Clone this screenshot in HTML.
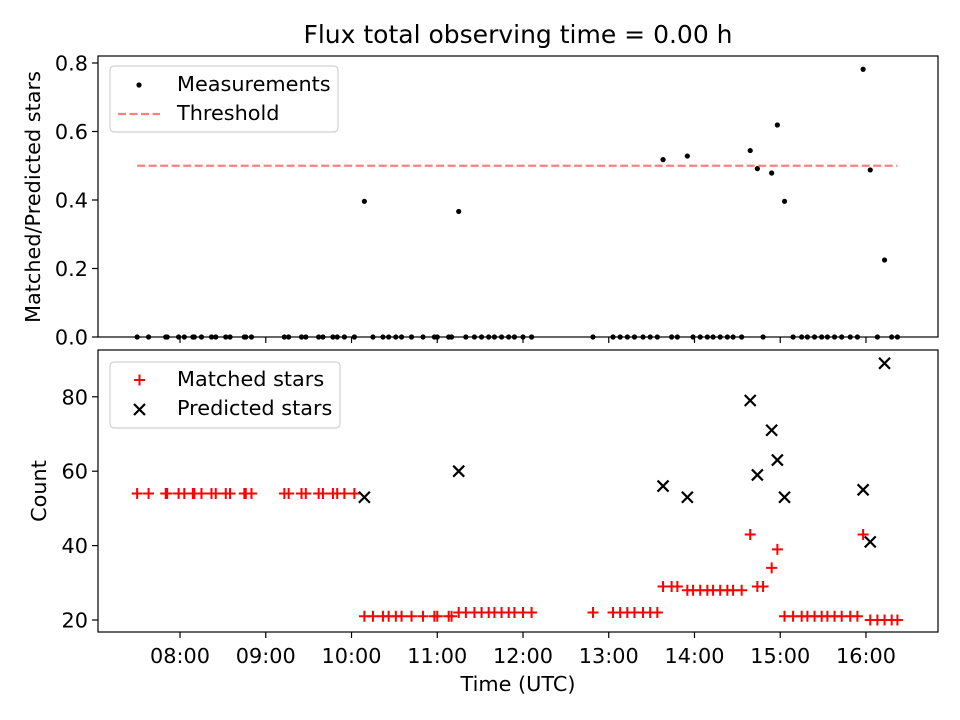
<!DOCTYPE html>
<html><head><meta charset="utf-8"><style>
html,body{margin:0;padding:0;background:#fff}
svg{display:block;font-family:"DejaVu Sans","Liberation Sans",sans-serif}
</style></head><body>
<svg id="chart" width="960" height="720" viewBox="0 0 960 720">
<text x="518" y="43" font-size="25" text-anchor="middle">Flux total observing time = 0.00 h</text>
<g id="topPanel"></g>
<g id="botPanel"></g>
</svg>
<script>
const times = [450,458,470,471,479,483,489,490,495,502,505,512,515,525,526,530,553,556,565,568,577,580,587,590,595,602,609,615,622,626,631,635,642,650,658,660,668,670,675,680,686,691,696,700,705,710,714,720,726,769,783,788,793,798,804,809,814,818,824,828,835,839,844,849,853,858,863,867,873,879,884,888,894,898,903,909,915,919,924,929,933,938,943,949,954,958,963,968,973,978,982];
const matched = [54,54,54,54,54,54,54,54,54,54,54,54,54,54,54,54,54,54,54,54,54,54,54,54,54,54,21,21,21,21,21,21,21,21,21,21,21,21,22,22,22,22,22,22,22,22,22,22,22,22,22,22,22,22,22,22,22,29,29,29,28,28,28,28,28,28,28,28,28,43,29,29,34,39,21,21,21,21,21,21,21,21,21,21,21,43,20,20,20,20,20];
const predTimes = [609,675,818,835,879,884,894,898,903,958,963,973];
const predicted = [53,60,56,53,79,59,71,63,53,55,41,89];
const threshold = 0.5;
const xTicks = ["08:00","09:00","10:00","11:00","12:00","13:00","14:00","15:00","16:00"];
const topTicks = [0,0.2,0.4,0.6,0.8];
const botTicks = [20,40,60,80];

const NS="http://www.w3.org/2000/svg";
function mk(parent,tag,attrs,text){const e=document.createElementNS(NS,tag);for(const k in attrs)e.setAttribute(k,attrs[k]);if(text!==undefined)e.textContent=text;parent.appendChild(e);return e;}
const FS=20.8;
const L=98,R=938;
const xMin=422.6,xMax=1010.4;
const sx=m=>L+(m-xMin)/(xMax-xMin)*(R-L);
const topY=v=>337-v/0.8*274;
const botY=v=>620-(v-20)/20*74.4;
const topG=document.getElementById('topPanel'), botG=document.getElementById('botPanel');

const ratios=times.map((t,i)=>{const j=predTimes.indexOf(t);return j>=0?matched[i]/predicted[j]:0;});

function frame(g,y0,y1,name){
  const r=mk(g,'rect',{x:L,y:y0,width:R-L,height:y1-y0,fill:'none',stroke:'#000','stroke-width':1.2});
  
  
}
const tl=mk(topG,'line',{x1:sx(Math.min(...times)),x2:sx(Math.max(...times)),y1:topY(threshold),y2:topY(threshold),stroke:'#ff7f7f','stroke-width':2.2,'stroke-dasharray':'8,3.5'});


ratios.forEach((v,i)=>{
  const c=mk(topG,'circle',{cx:sx(times[i]),cy:topY(v),r:2.6,fill:'#000'});
  
  
});
frame(topG,56,337,'top-axes-frame');
topTicks.forEach(v=>{
  const y=topY(v);
  mk(topG,'line',{x1:L-6,x2:L,y1:y,y2:y,stroke:'#000','stroke-width':1.2});
  const t=mk(topG,'text',{x:L-10,y:y+7.5,'font-size':FS,'text-anchor':'end'},v.toFixed(1));
  
  
});
xTicks.forEach((s,i)=>{const x=sx(480+60*i);mk(topG,'line',{x1:x,x2:x,y1:337,y2:343,stroke:'#000','stroke-width':1.2});});
const ty=mk(topG,'text',{x:0,y:0,'font-size':FS,'text-anchor':'middle',transform:'translate(40,197) rotate(-90)'},'Matched/Predicted stars');


const lg1=mk(topG,'g',{});


mk(lg1,'rect',{x:110,y:66,width:228,height:66,rx:4,fill:'#fff',stroke:'#d0d0d0','stroke-width':1.2});
mk(lg1,'circle',{cx:139,cy:85,r:2.6,fill:'#000'});
mk(lg1,'text',{x:177,y:91,'font-size':FS},'Measurements');
mk(lg1,'line',{x1:118,x2:160,y1:114,y2:114,stroke:'#ff7f7f','stroke-width':2.2,'stroke-dasharray':'8,3.5'});
mk(lg1,'text',{x:177,y:120,'font-size':FS},'Threshold');

function plus(g,x,y,name){const p=mk(g,'path',{d:`M${x-5.5},${y}H${x+5.5}M${x},${y-5.5}V${y+5.5}`,stroke:'#ff0000','stroke-width':2,fill:'none'});}
function cross(g,x,y,name){const p=mk(g,'path',{d:`M${x-5.5},${y-5.5}L${x+5.5},${y+5.5}M${x-5.5},${y+5.5}L${x+5.5},${y-5.5}`,stroke:'#000','stroke-width':2.2,fill:'none'});}
matched.forEach((v,i)=>plus(botG,sx(times[i]),botY(v),'matched-star-point'));
predicted.forEach((v,i)=>cross(botG,sx(predTimes[i]),botY(v),'predicted-star-point'));
frame(botG,350,632,'bottom-axes-frame');
botTicks.forEach(v=>{
  const y=botY(v);
  mk(botG,'line',{x1:L-6,x2:L,y1:y,y2:y,stroke:'#000','stroke-width':1.2});
  const t=mk(botG,'text',{x:L-10,y:y+7.5,'font-size':FS,'text-anchor':'end'},String(v));
  
  
});
xTicks.forEach((s,i)=>{
  const x=sx(480+60*i);
  mk(botG,'line',{x1:x,x2:x,y1:632,y2:638,stroke:'#000','stroke-width':1.2});
  const t=mk(botG,'text',{x:x,y:663,'font-size':FS,'text-anchor':'middle'},s);
  
  
});
const by=mk(botG,'text',{x:0,y:0,'font-size':FS,'text-anchor':'middle',transform:'translate(46,491) rotate(-90)'},'Count');


const bx=mk(botG,'text',{x:518,y:691,'font-size':FS,'text-anchor':'middle'},'Time (UTC)');


const lg2=mk(botG,'g',{});


mk(lg2,'rect',{x:110,y:362,width:230,height:66,rx:4,fill:'#fff',stroke:'#d0d0d0','stroke-width':1.2});
mk(lg2,'path',{d:'M134,380H145M139.5,374.5V385.5',stroke:'#ff0000','stroke-width':2});
mk(lg2,'text',{x:177,y:386,'font-size':FS},'Matched stars');
mk(lg2,'path',{d:'M134,404L145,415M134,415L145,404',stroke:'#000','stroke-width':2.2});
mk(lg2,'text',{x:177,y:415,'font-size':FS},'Predicted stars');
</script>
</body></html>
